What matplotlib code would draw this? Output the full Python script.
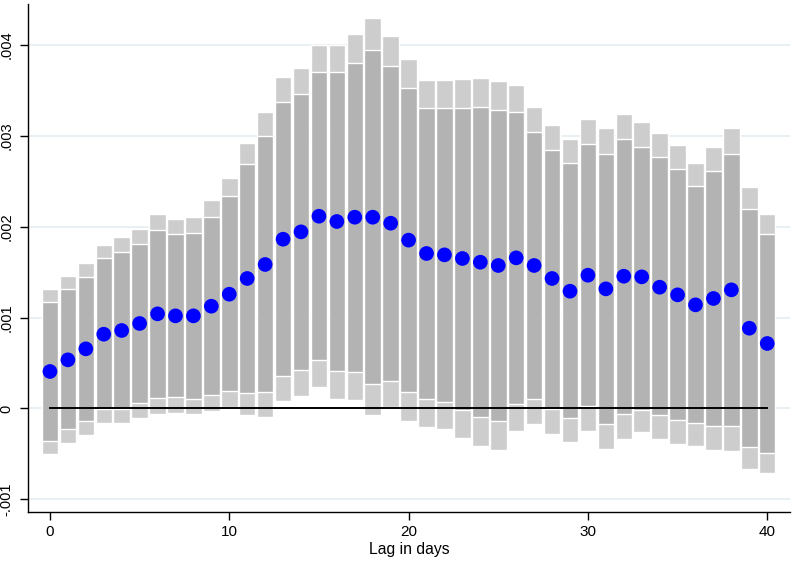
from __future__ import annotations

import matplotlib as mpl

mpl.use("Agg")

import matplotlib.pyplot as plt
import numpy as np
from matplotlib.ticker import FixedLocator, FuncFormatter

# Coefficients by lag, in units of 1e-3.
LAGS = list(range(41))
POINT = [
    0.407, 0.535, 0.656, 0.817, 0.858, 0.935, 1.041, 1.019, 1.019, 1.125,
    1.257, 1.430, 1.584, 1.862, 1.943, 2.115, 2.057, 2.104, 2.104, 2.038,
    1.852, 1.705, 1.690, 1.650, 1.609, 1.573, 1.657, 1.573, 1.430, 1.290,
    1.466, 1.316, 1.455, 1.448, 1.334, 1.250, 1.140, 1.210, 1.305, 0.883,
    0.715,
]
INNER_LO = [
    -0.360, -0.231, -0.142, -0.005, -0.008, 0.060, 0.115, 0.122, 0.104, 0.153,
    0.188, 0.168, 0.176, 0.361, 0.418, 0.537, 0.412, 0.405, 0.269, 0.304,
    0.178, 0.099, 0.072, -0.016, -0.094, -0.138, 0.053, 0.100, -0.010, -0.108,
    0.027, -0.167, -0.057, -0.015, -0.077, -0.132, -0.162, -0.191, -0.198, -0.422,
    -0.495,
]
INNER_HI = [
    1.169, 1.309, 1.448, 1.650, 1.716, 1.807, 1.965, 1.914, 1.932, 2.101,
    2.332, 2.684, 2.992, 3.366, 3.461, 3.696, 3.696, 3.795, 3.942, 3.766,
    3.524, 3.307, 3.300, 3.307, 3.315, 3.282, 3.256, 3.036, 2.838, 2.695,
    2.911, 2.801, 2.959, 2.878, 2.761, 2.633, 2.446, 2.607, 2.798, 2.189,
    1.914,
]
OUTER_LO = [
    -0.506, -0.378, -0.292, -0.155, -0.163, -0.103, -0.057, -0.046, -0.064, -0.024,
    0.012, -0.068, -0.096, 0.078, 0.132, 0.238, 0.106, 0.091, -0.074, 0.012,
    -0.134, -0.202, -0.230, -0.323, -0.417, -0.460, -0.246, -0.169, -0.279, -0.374,
    -0.250, -0.448, -0.341, -0.261, -0.341, -0.396, -0.411, -0.455, -0.473, -0.668,
    -0.712,
]
OUTER_HI = [
    1.316, 1.455, 1.602, 1.796, 1.888, 1.976, 2.137, 2.082, 2.104, 2.292,
    2.534, 2.922, 3.263, 3.648, 3.747, 3.997, 4.000, 4.114, 4.290, 4.096,
    3.839, 3.612, 3.608, 3.626, 3.637, 3.604, 3.560, 3.315, 3.113, 2.966,
    3.186, 3.087, 3.241, 3.146, 3.029, 2.893, 2.695, 2.878, 3.084, 2.438,
    2.141,
]
Y_TICKS = [-0.001, 0.0, 0.001, 0.002, 0.003, 0.004]
X_TICKS = [0, 10, 20, 30, 40]


def configure_matplotlib() -> None:
    mpl.rcParams.update(
        {
            "font.family": ["Liberation Sans", "DejaVu Sans"],
            "font.size": 10.5,
            "axes.linewidth": 1.0,
        }
    )


def stata_label(value: float, _pos=None) -> str:
    # Stata drops the leading zero: .004, -.001, 0
    if abs(value) < 1e-12:
        return "0"
    text = f"{value:.3f}"
    return text.replace("0.", ".", 1)


def make_figure(path: str) -> None:
    configure_matplotlib()
    lags = np.array(LAGS)
    scale = 1e-3
    point = np.array(POINT) * scale
    in_lo = np.array(INNER_LO) * scale
    in_hi = np.array(INNER_HI) * scale
    out_lo = np.array(OUTER_LO) * scale
    out_hi = np.array(OUTER_HI) * scale

    fig = plt.figure(figsize=(7.92, 5.64), dpi=100, facecolor="white")
    ax = fig.add_axes([0.035, 0.092, 0.9625, 0.901])

    for y in Y_TICKS:
        ax.axhline(y, color="#e6eff2", linewidth=1.3, zorder=0)

    ax.bar(lags, out_hi - out_lo, bottom=out_lo, width=0.92, color="#cdcdcd",
           edgecolor="white", linewidth=1.0, zorder=2)
    ax.bar(lags, in_hi - in_lo, bottom=in_lo, width=0.92, color="#b3b3b3",
           edgecolor="white", linewidth=1.0, zorder=3)
    ax.plot([lags[0], lags[-1]], [0, 0], color="black", linewidth=1.4, zorder=4)
    ax.scatter(lags, point, s=112, color="#0000ff", edgecolor="none", zorder=5)

    ax.set_xlim(-1.24, 41.27)
    ax.set_ylim(-0.00114, 0.00445)
    ax.xaxis.set_major_locator(FixedLocator(X_TICKS))
    ax.yaxis.set_major_locator(FixedLocator(Y_TICKS))
    ax.yaxis.set_major_formatter(FuncFormatter(stata_label))
    ax.tick_params(axis="both", direction="out", width=1.0)
    ax.tick_params(axis="x", length=5.5, pad=4, labelsize=11)
    ax.tick_params(axis="y", length=6, pad=4, labelsize=10.5)
    for label in ax.get_yticklabels():
        label.set_rotation(90)
        label.set_va("center")
    ax.spines["top"].set_visible(False)
    ax.spines["right"].set_visible(False)
    ax.set_xlabel("Lag in days", fontsize=11.3, labelpad=2)

    fig.savefig(path, dpi=100, facecolor="white")
    plt.close(fig)


def main() -> None:
    make_figure("out.png")


if __name__ == "__main__":
    main()
